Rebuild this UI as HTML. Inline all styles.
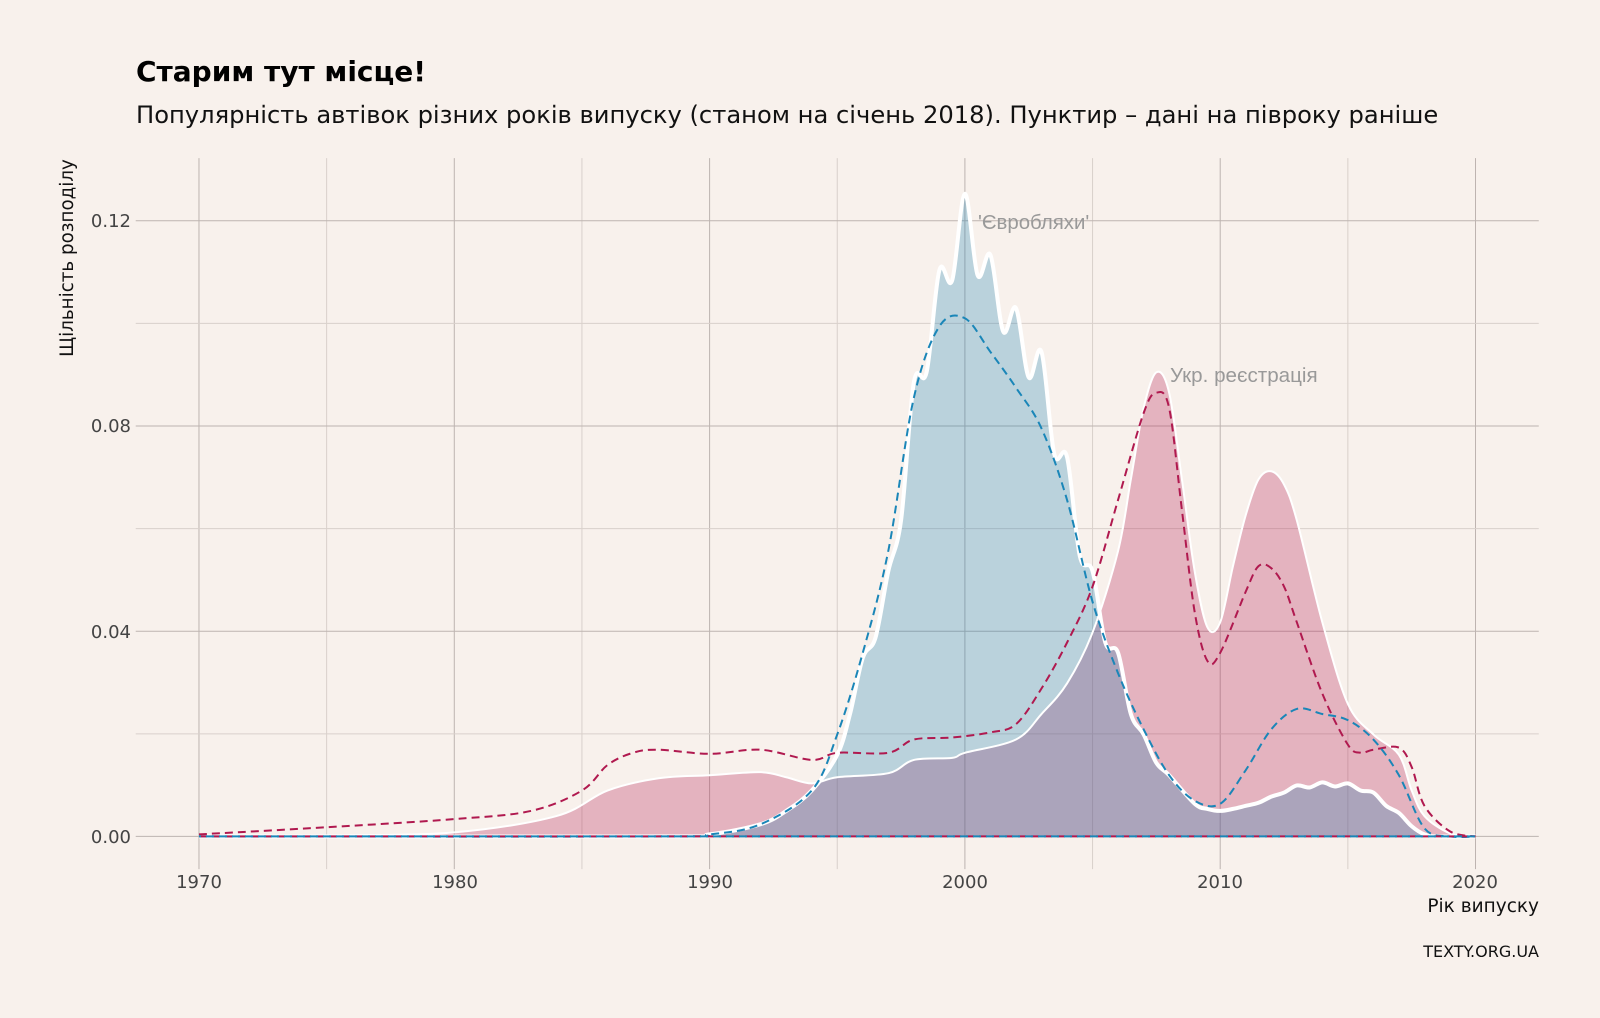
<!DOCTYPE html>
<html><head><meta charset="utf-8">
<style>
html,body{margin:0;padding:0;background:#f8f1ec;}
svg{display:block;font-family:"DejaVu Sans","Liberation Sans",sans-serif;}
</style></head>
<body>
<svg id="s" width="1600" height="1018" viewBox="0 0 1600 1018">
<rect width="1600" height="1018" fill="#f8f1ec"/>
<g id="grid"></g>
<g id="curves"></g>
<text x="136" y="81" font-size="28" font-weight="bold" fill="#000">Старим тут місце!</text>
<text x="136" y="123" font-size="24.2" fill="#111">Популярність автівок різних років випуску (станом на січень 2018). Пунктир – дані на півроку раніше</text>
<text transform="translate(73,258) rotate(-90)" text-anchor="middle" font-size="18.3" fill="#111">Щільність розподілу</text>
<g font-size="18" fill="#444" text-anchor="end">
<text x="131" y="843">0.00</text>
<text x="131" y="638">0.04</text>
<text x="131" y="432">0.08</text>
<text x="131" y="227">0.12</text>
</g>
<g font-size="18" fill="#444" text-anchor="middle">
<text x="199" y="888">1970</text>
<text x="455" y="888">1980</text>
<text x="710" y="888">1990</text>
<text x="965" y="888">2000</text>
<text x="1220" y="888">2010</text>
<text x="1475" y="888">2020</text>
</g>
<text x="1539" y="912" font-size="18.5" fill="#111" text-anchor="end">Рік випуску</text>
<text x="1539" y="957" font-size="16" fill="#111" text-anchor="end">TEXTY.ORG.UA</text>
<text x="978" y="229" font-size="20.4" fill="#999" font-family="Liberation Sans, sans-serif">'Євробляхи'</text>
<text x="1170" y="382" font-size="20.6" fill="#999" font-family="Liberation Sans, sans-serif">Укр. реєстрація</text>
</svg>
<script>
const NS="http://www.w3.org/2000/svg";
const sx=1600/1568, sy=1018/998;
function X(px){return px*sx;} function Y(py){return py*sy;}
function el(p,tag,a){const e=document.createElementNS(NS,tag);for(const k in a)e.setAttribute(k,a[k]);p.appendChild(e);return e;}
const g=document.getElementById('grid');
for(let i=0;i<=10;i++){const x=X(195+i*25.02*5);el(g,'line',{x1:x,x2:x,y1:Y(155),y2:Y(852),stroke:i%2?'#d9d0cb':'#bdb4b0','stroke-width':1});}
for(let i=0;i<=6;i++){const y=Y(820-i*100.6);el(g,'line',{x1:X(133),x2:X(1508),y1:y,y2:y,stroke:i%2?'#d9d0cb':'#bdb4b0','stroke-width':1});}
function yr(t){return 195+(t-1970)*25.02;}
function path(pts){
 const P=pts.map(p=>[X(yr(p[0])),Y(p[1])]);
 let d=`M${P[0][0]},${P[0][1]}`;
 for(let i=0;i<P.length-1;i++){const p0=P[i-1]||P[i],p1=P[i],p2=P[i+1],p3=P[i+2]||p2;
  const c1=[p1[0]+(p2[0]-p0[0])/6,p1[1]+(p2[1]-p0[1])/6],c2=[p2[0]-(p3[0]-p1[0])/6,p2[1]-(p3[1]-p1[1])/6];
  d+=`C${c1[0]},${c1[1]} ${c2[0]},${c2[1]} ${p2[0]},${p2[1]}`;}
 return d;}
const blueS=[[1970,820],[1988,820],[1990,818],[1992,808],[1993,795],[1994,775],[1995,740],[1995.5,700],[1996,645],[1996.5,625],[1997,560],[1997.5,510],[1998,375],[1998.5,365],[1999,265],[1999.5,275],[2000,190],[2000.5,270],[2001,250],[2001.5,325],[2002,302],[2002.5,370],[2003,345],[2003.5,445],[2004,448],[2004.5,545],[2005,560],[2005.5,630],[2006,640],[2006.5,700],[2007,720],[2007.5,748],[2008,760],[2009,788],[2009.5,793],[2010,795],[2010.5,793],[2011,790],[2011.5,787],[2012,781],[2012.5,777],[2013,770],[2013.5,772],[2014,767],[2014.5,771],[2015,768],[2015.5,775],[2016,777],[2016.5,790],[2017,797],[2017.5,810],[2018,818],[2018.5,820],[2020,820]];
const pinkS=[[1970,820],[1975,819],[1980,816],[1984,800],[1986,775],[1988,763],[1990,760],[1992,757],[1993,762],[1994,768],[1995,762],[1997,758],[1998,745],[1999.5,743],[2000,738],[2002,725],[2003,700],[2004,670],[2005,620],[2006,540],[2006.5,470],[2007,400],[2007.5,365],[2008,385],[2008.5,470],[2009,560],[2009.5,615],[2010,610],[2010.5,555],[2011,505],[2011.5,470],[2012,462],[2012.5,475],[2013,510],[2014,610],[2015,690],[2016,720],[2017,740],[2017.5,775],[2018,800],[2019,817],[2020,820]];
const blueD=[[1970,820],[1988,820],[1990,818],[1992,808],[1994,775],[1995,720],[1996,640],[1997,540],[1998,390],[1999,320],[2000,312],[2001,345],[2002,380],[2003,420],[2004,490],[2005,590],[2006,660],[2007,715],[2008,760],[2009,785],[2010,788],[2011,755],[2012,715],[2013,695],[2014,700],[2015,706],[2016,725],[2017,760],[2018,812],[2019,820],[2020,820]];
const pinkD=[[1970,818],[1975,811],[1980,803],[1983,795],[1985,775],[1986,750],[1987,738],[1988,735],[1990,739],[1992,735],[1994,745],[1995,738],[1997,738],[1998,725],[1999.5,723],[2001,718],[2002,710],[2003,675],[2004,630],[2005,575],[2006,490],[2007,405],[2007.5,385],[2008,400],[2008.5,500],[2009,600],[2009.5,648],[2010,640],[2011,580],[2011.5,555],[2012,557],[2012.5,575],[2013,610],[2014,680],[2015,730],[2015.5,738],[2016,735],[2017,733],[2017.5,752],[2018,790],[2019,815],[2020,820]];
const c=document.getElementById('curves');
const base=Y(820);
function area(pts){return path(pts)+`L${X(yr(pts[pts.length-1][0]))},${base}L${X(yr(pts[0][0]))},${base}Z`;}
el(c,'path',{d:area(pinkS),fill:'rgb(181,38,86)','fill-opacity':0.3});
el(c,'path',{d:area(blueS),fill:'rgb(18,126,177)','fill-opacity':0.27});
el(c,'path',{d:path(pinkS),fill:'none',stroke:'#fff','stroke-width':2});
el(c,'path',{d:path(blueS),fill:'none',stroke:'#fff','stroke-width':4});
el(c,'path',{d:path(pinkD),fill:'none',stroke:'#b0194f','stroke-width':2,'stroke-dasharray':'8,5'});
el(c,'path',{d:path(blueD),fill:'none',stroke:'#1a86b8','stroke-width':2,'stroke-dasharray':'8,5'});
el(c,'line',{x1:X(195),x2:X(1446),y1:base,y2:base,stroke:'#b0194f','stroke-width':2,'stroke-dasharray':'8,5'});
el(c,'line',{x1:X(195),x2:X(1446),y1:base,y2:base,stroke:'#1a86b8','stroke-width':2,'stroke-dasharray':'8,5','stroke-dashoffset':6});
</script>
</body></html>
